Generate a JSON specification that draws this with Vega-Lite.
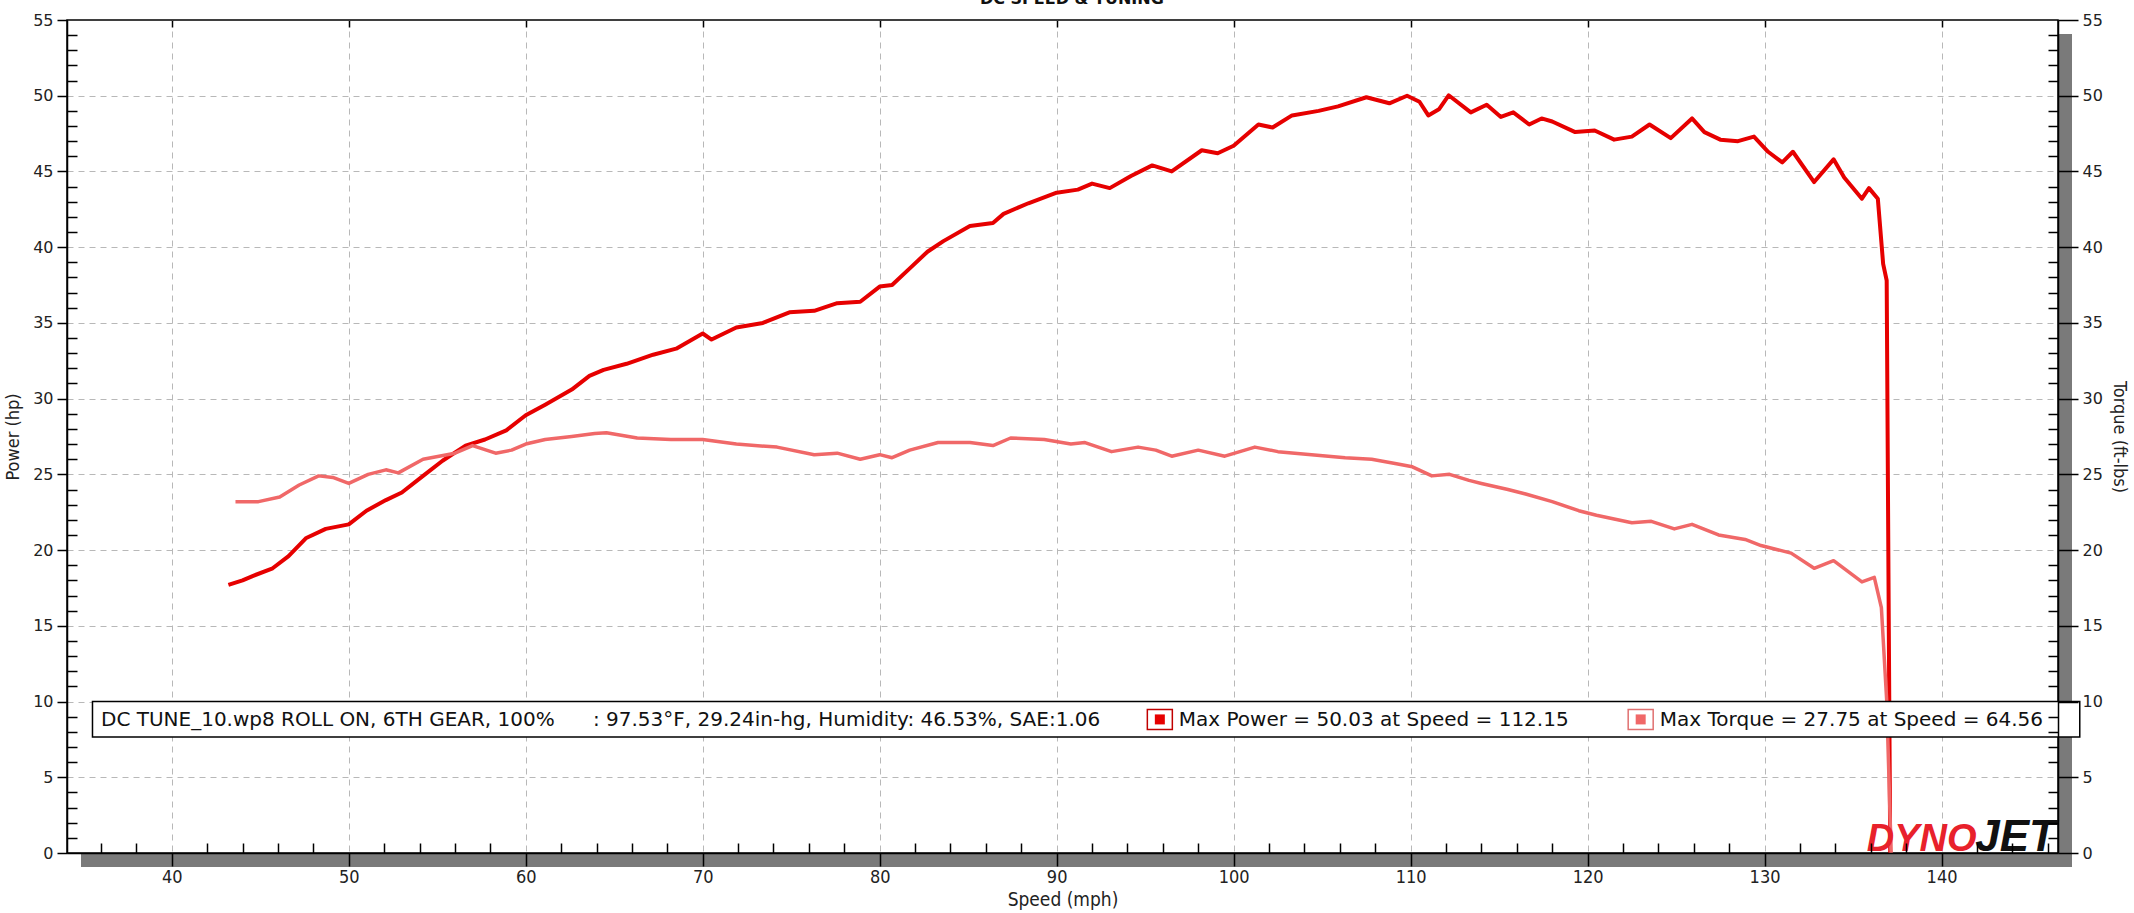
{
  "$schema": "https://vega.github.io/schema/vega-lite/v6.json",
  "width": 1991,
  "height": 833,
  "autosize": {"type": "none"},
  "padding": {"left": 67, "top": 20, "right": 76, "bottom": 60},
  "background": "white",
  "config": {
    "view": {"stroke": "#000", "strokeWidth": 1.5},
    "axis": {"labelFont": "DejaVu Sans", "titleFont": "DejaVu Sans", "labelColor": "#222", "titleColor": "#222", "titleFontWeight": "normal", "tickColor": "#000", "domainColor": "#000"}
  },
  "datasets": {
    "power": [
      {"speed": 43.2, "hp": 17.7}, {"speed": 44.0, "hp": 18.0}, {"speed": 44.6, "hp": 18.3}, {"speed": 45.7, "hp": 18.8},
      {"speed": 46.6, "hp": 19.6}, {"speed": 47.6, "hp": 20.8}, {"speed": 48.7, "hp": 21.4}, {"speed": 50.0, "hp": 21.7},
      {"speed": 51.0, "hp": 22.6}, {"speed": 52.1, "hp": 23.3}, {"speed": 53.0, "hp": 23.8}, {"speed": 54.2, "hp": 24.9},
      {"speed": 55.3, "hp": 25.9}, {"speed": 56.6, "hp": 26.9}, {"speed": 57.7, "hp": 27.3}, {"speed": 58.9, "hp": 27.9},
      {"speed": 60.0, "hp": 28.9}, {"speed": 61.1, "hp": 29.6}, {"speed": 62.6, "hp": 30.6}, {"speed": 63.6, "hp": 31.5},
      {"speed": 64.4, "hp": 31.9}, {"speed": 65.7, "hp": 32.3}, {"speed": 67.2, "hp": 32.9}, {"speed": 68.5, "hp": 33.3},
      {"speed": 70.0, "hp": 34.3}, {"speed": 70.5, "hp": 33.9}, {"speed": 71.9, "hp": 34.7}, {"speed": 73.4, "hp": 35.0},
      {"speed": 74.9, "hp": 35.7}, {"speed": 76.3, "hp": 35.8}, {"speed": 77.6, "hp": 36.3}, {"speed": 78.9, "hp": 36.4},
      {"speed": 80.0, "hp": 37.4}, {"speed": 80.7, "hp": 37.5}, {"speed": 81.7, "hp": 38.6}, {"speed": 82.7, "hp": 39.7},
      {"speed": 83.6, "hp": 40.4}, {"speed": 85.1, "hp": 41.4}, {"speed": 86.4, "hp": 41.6}, {"speed": 87.0, "hp": 42.2},
      {"speed": 88.4, "hp": 42.9}, {"speed": 90.0, "hp": 43.6}, {"speed": 91.2, "hp": 43.8}, {"speed": 92.0, "hp": 44.2},
      {"speed": 93.0, "hp": 43.9}, {"speed": 94.2, "hp": 44.7}, {"speed": 95.4, "hp": 45.4}, {"speed": 96.5, "hp": 45.0},
      {"speed": 98.2, "hp": 46.4}, {"speed": 99.1, "hp": 46.2}, {"speed": 100.0, "hp": 46.7}, {"speed": 101.4, "hp": 48.1},
      {"speed": 102.2, "hp": 47.9}, {"speed": 103.3, "hp": 48.7}, {"speed": 104.8, "hp": 49.0}, {"speed": 105.9, "hp": 49.3},
      {"speed": 107.5, "hp": 49.9}, {"speed": 108.8, "hp": 49.5}, {"speed": 109.8, "hp": 50.0}, {"speed": 110.5, "hp": 49.6},
      {"speed": 111.0, "hp": 48.7}, {"speed": 111.6, "hp": 49.1}, {"speed": 112.15, "hp": 50.03}, {"speed": 113.4, "hp": 48.9},
      {"speed": 114.3, "hp": 49.4}, {"speed": 115.1, "hp": 48.6}, {"speed": 115.8, "hp": 48.9}, {"speed": 116.7, "hp": 48.1},
      {"speed": 117.4, "hp": 48.5}, {"speed": 118.0, "hp": 48.3}, {"speed": 119.3, "hp": 47.6}, {"speed": 120.4, "hp": 47.7},
      {"speed": 121.5, "hp": 47.1}, {"speed": 122.5, "hp": 47.3}, {"speed": 123.5, "hp": 48.1}, {"speed": 124.7, "hp": 47.2},
      {"speed": 125.9, "hp": 48.5}, {"speed": 126.6, "hp": 47.6}, {"speed": 127.5, "hp": 47.1}, {"speed": 128.5, "hp": 47.0},
      {"speed": 129.4, "hp": 47.3}, {"speed": 130.2, "hp": 46.3}, {"speed": 131.0, "hp": 45.6}, {"speed": 131.6, "hp": 46.3},
      {"speed": 132.8, "hp": 44.3}, {"speed": 133.9, "hp": 45.8}, {"speed": 134.5, "hp": 44.6}, {"speed": 135.5, "hp": 43.2},
      {"speed": 135.9, "hp": 43.9}, {"speed": 136.4, "hp": 43.2}, {"speed": 136.7, "hp": 38.9}, {"speed": 136.9, "hp": 37.8},
      {"speed": 137.0, "hp": 18.5}, {"speed": 137.1, "hp": 0}
    ],
    "torque": [
      {"speed": 43.6, "tq": 23.2}, {"speed": 44.9, "tq": 23.2}, {"speed": 46.1, "tq": 23.5}, {"speed": 47.2, "tq": 24.3},
      {"speed": 48.3, "tq": 24.9}, {"speed": 49.1, "tq": 24.8}, {"speed": 50.0, "tq": 24.4}, {"speed": 51.1, "tq": 25.0},
      {"speed": 52.1, "tq": 25.3}, {"speed": 52.8, "tq": 25.1}, {"speed": 54.2, "tq": 26.0}, {"speed": 55.1, "tq": 26.2},
      {"speed": 56.0, "tq": 26.4}, {"speed": 57.0, "tq": 26.9}, {"speed": 58.3, "tq": 26.4}, {"speed": 59.2, "tq": 26.6},
      {"speed": 60.0, "tq": 27.0}, {"speed": 61.1, "tq": 27.3}, {"speed": 62.6, "tq": 27.5}, {"speed": 63.9, "tq": 27.7},
      {"speed": 64.56, "tq": 27.75}, {"speed": 66.3, "tq": 27.4}, {"speed": 68.2, "tq": 27.3}, {"speed": 70.0, "tq": 27.3},
      {"speed": 71.9, "tq": 27.0}, {"speed": 74.2, "tq": 26.8}, {"speed": 76.3, "tq": 26.3}, {"speed": 77.6, "tq": 26.4},
      {"speed": 78.9, "tq": 26.0}, {"speed": 80.0, "tq": 26.3}, {"speed": 80.7, "tq": 26.1}, {"speed": 81.7, "tq": 26.6},
      {"speed": 83.3, "tq": 27.1}, {"speed": 85.1, "tq": 27.1}, {"speed": 86.4, "tq": 26.9}, {"speed": 87.4, "tq": 27.4},
      {"speed": 89.3, "tq": 27.3}, {"speed": 90.8, "tq": 27.0}, {"speed": 91.6, "tq": 27.1}, {"speed": 93.1, "tq": 26.5},
      {"speed": 94.6, "tq": 26.8}, {"speed": 95.6, "tq": 26.6}, {"speed": 96.5, "tq": 26.2}, {"speed": 98.0, "tq": 26.6},
      {"speed": 99.5, "tq": 26.2}, {"speed": 101.2, "tq": 26.8}, {"speed": 102.5, "tq": 26.5}, {"speed": 104.4, "tq": 26.3},
      {"speed": 106.3, "tq": 26.1}, {"speed": 107.8, "tq": 26.0}, {"speed": 109.2, "tq": 25.7}, {"speed": 110.1, "tq": 25.5},
      {"speed": 111.2, "tq": 24.9}, {"speed": 112.2, "tq": 25.0}, {"speed": 113.3, "tq": 24.6}, {"speed": 114.0, "tq": 24.4},
      {"speed": 115.5, "tq": 24.0}, {"speed": 116.5, "tq": 23.7}, {"speed": 118.0, "tq": 23.2}, {"speed": 119.5, "tq": 22.6},
      {"speed": 120.5, "tq": 22.3}, {"speed": 122.5, "tq": 21.8}, {"speed": 123.6, "tq": 21.9}, {"speed": 124.9, "tq": 21.4},
      {"speed": 125.9, "tq": 21.7}, {"speed": 127.4, "tq": 21.0}, {"speed": 128.9, "tq": 20.7}, {"speed": 129.8, "tq": 20.3},
      {"speed": 131.5, "tq": 19.8}, {"speed": 132.8, "tq": 18.8}, {"speed": 133.9, "tq": 19.3}, {"speed": 135.5, "tq": 17.9},
      {"speed": 136.2, "tq": 18.2}, {"speed": 136.6, "tq": 16.2}, {"speed": 136.9, "tq": 10.1}, {"speed": 137.15, "tq": 0}
    ]
  },
  "resolve": {"axis": {"x": "independent", "y": "independent"}},
  "layer": [
    {
      "data": {"name": "power"},
      "mark": {"type": "point", "opacity": 0},
      "encoding": {
        "x": {"field": "speed", "type": "quantitative", "scale": {"domain": [34.08, 146.58], "nice": false, "zero": false},
              "axis": {"orient": "bottom", "values": [40, 50, 60, 70, 80, 90, 100, 110, 120, 130, 140], "grid": true, "gridColor": "#b8b8b8", "gridDash": [6, 5], "gridWidth": 1, "domain": false, "ticks": false, "labels": false, "title": null, "zindex": 0}},
        "y": {"field": "hp", "type": "quantitative", "scale": {"domain": [0, 55], "nice": false, "zero": true},
              "axis": {"orient": "left", "values": [5, 10, 15, 20, 25, 30, 35, 40, 45, 50], "grid": true, "gridColor": "#b8b8b8", "gridDash": [6, 5], "gridWidth": 1, "domain": false, "ticks": false, "labels": false, "title": null, "zindex": 0}}
      }
    },
    {
      "data": {"name": "power"},
      "mark": {"type": "point", "opacity": 0},
      "encoding": {
        "x": {"field": "speed", "type": "quantitative",
              "axis": {"orient": "bottom", "domain": true, "domainColor": "#7a7a7a", "domainWidth": 14, "offset": -7, "translate": 14, "ticks": false, "labels": false, "grid": false, "title": null, "zindex": 0}},
        "y": {"field": "hp", "type": "quantitative",
              "axis": {"orient": "right", "domain": true, "domainColor": "#7a7a7a", "domainWidth": 14, "offset": -7, "translate": 14, "ticks": false, "labels": false, "grid": false, "title": null, "zindex": 0}}
      }
    },
    {
      "data": {"name": "power"},
      "mark": {"type": "line", "color": "#e60000", "strokeWidth": 4, "strokeJoin": "round"},
      "encoding": {
        "x": {"field": "speed", "type": "quantitative",
              "axis": {"orient": "bottom", "values": [40, 50, 60, 70, 80, 90, 100, 110, 120, 130, 140], "grid": false, "tickSize": 13, "tickWidth": 1.5, "domainWidth": 1.5, "labelFont": "DejaVu Sans Condensed", "labelFontSize": 18, "labelPadding": 2, "title": "Speed (mph)", "titleFont": "DejaVu Sans Condensed", "titleFontSize": 19, "titlePadding": 4, "zindex": 1}},
        "y": {"field": "hp", "type": "quantitative",
              "axis": {"orient": "left", "values": [0, 5, 10, 15, 20, 25, 30, 35, 40, 45, 50, 55], "grid": false, "tickSize": 10, "tickWidth": 1.5, "domainWidth": 1.5, "labelFontSize": 16, "labelPadding": 4, "title": "Power (hp)", "titleFont": "DejaVu Sans Condensed", "titleFontSize": 18, "titlePadding": 10, "zindex": 1}}
      }
    },
    {
      "data": {"name": "torque"},
      "mark": {"type": "line", "color": "#f06868", "strokeWidth": 3.5, "strokeJoin": "round"},
      "encoding": {
        "x": {"field": "speed", "type": "quantitative",
              "axis": {"orient": "top", "values": [40, 50, 60, 70, 80, 90, 100, 110, 120, 130, 140], "grid": false, "domain": false, "tickSize": 7, "tickWidth": 1.5, "offset": -7, "labels": false, "title": null, "zindex": 1}},
        "y": {"field": "tq", "type": "quantitative",
              "axis": {"orient": "right", "values": [0, 5, 10, 15, 20, 25, 30, 35, 40, 45, 50, 55], "grid": false, "tickSize": 20, "tickWidth": 1.5, "domainWidth": 1.5, "labelFontSize": 16, "labelPadding": 4, "title": "Torque (ft-lbs)", "titleFont": "DejaVu Sans Condensed", "titleFontSize": 18, "titlePadding": 7, "zindex": 1}}
      }
    },
    {
      "data": {"name": "power"},
      "mark": {"type": "point", "opacity": 0},
      "encoding": {
        "x": {"field": "speed", "type": "quantitative",
              "axis": {"orient": "bottom", "values": [36, 38, 42, 44, 46, 48, 52, 54, 56, 58, 62, 64, 66, 68, 72, 74, 76, 78, 82, 84, 86, 88, 92, 94, 96, 98, 102, 104, 106, 108, 112, 114, 116, 118, 122, 124, 126, 128, 132, 134, 136, 138, 142, 144, 146], "domain": false, "tickSize": 10, "tickWidth": 1.5, "offset": -10, "labels": false, "grid": false, "title": null, "zindex": 1}},
        "y": {"field": "hp", "type": "quantitative",
              "axis": {"orient": "left", "values": [1, 2, 3, 4, 6, 7, 8, 9, 11, 12, 13, 14, 16, 17, 18, 19, 21, 22, 23, 24, 26, 27, 28, 29, 31, 32, 33, 34, 36, 37, 38, 39, 41, 42, 43, 44, 46, 47, 48, 49, 51, 52, 53, 54], "domain": false, "tickSize": 10, "tickWidth": 1.5, "offset": -10, "labels": false, "grid": false, "title": null, "zindex": 1}}
      }
    },
    {
      "data": {"name": "torque"},
      "mark": {"type": "point", "opacity": 0},
      "encoding": {
        "x": {"field": "speed", "type": "quantitative", "axis": null},
        "y": {"field": "tq", "type": "quantitative",
              "axis": {"orient": "right", "values": [1, 2, 3, 4, 6, 7, 8, 9, 11, 12, 13, 14, 16, 17, 18, 19, 21, 22, 23, 24, 26, 27, 28, 29, 31, 32, 33, 34, 36, 37, 38, 39, 41, 42, 43, 44, 46, 47, 48, 49, 51, 52, 53, 54], "domain": false, "tickSize": 10, "tickWidth": 1.5, "offset": -10, "labels": false, "grid": false, "title": null, "zindex": 1}}
      }
    },
    {
      "data": {"values": [{}]},
      "mark": {"type": "rect", "fill": "white", "stroke": "#000", "strokeWidth": 1.5},
      "encoding": {
        "x": {"datum": 35.52, "type": "quantitative", "axis": null},
        "x2": {"datum": 147.81},
        "y": {"datum": 10.0, "type": "quantitative", "axis": null},
        "y2": {"datum": 7.66}
      }
    },
    {
      "data": {"values": [{}]},
      "mark": {"type": "text", "align": "left", "baseline": "middle", "font": "DejaVu Sans", "fontSize": 20, "color": "#111"},
      "encoding": {
        "x": {"datum": 36.0, "type": "quantitative", "axis": null},
        "y": {"datum": 8.8, "type": "quantitative", "axis": null},
        "text": {"value": "DC TUNE_10.wp8 ROLL ON, 6TH GEAR, 100%\u00a0\u00a0\u00a0\u00a0\u00a0\u00a0: 97.53°F, 29.24in-hg, Humidity: 46.53%, SAE:1.06"}
      }
    },
    {
      "data": {"values": [{}]},
      "mark": {"type": "point", "shape": "M-1.25,-1H1.25V1H-1.25Z", "size": 400, "filled": false, "stroke": "#c00000", "strokeWidth": 1.5, "opacity": 1},
      "encoding": {
        "x": {"datum": 95.83, "type": "quantitative", "axis": null},
        "y": {"datum": 8.82, "type": "quantitative", "axis": null}
      }
    },
    {
      "data": {"values": [{}]},
      "mark": {"type": "point", "shape": "square", "size": 100, "filled": true, "color": "#e60000", "opacity": 1},
      "encoding": {
        "x": {"datum": 95.83, "type": "quantitative", "axis": null},
        "y": {"datum": 8.82, "type": "quantitative", "axis": null}
      }
    },
    {
      "data": {"values": [{}]},
      "mark": {"type": "text", "align": "left", "baseline": "middle", "font": "DejaVu Sans", "fontSize": 20, "color": "#111"},
      "encoding": {
        "x": {"datum": 96.9, "type": "quantitative", "axis": null},
        "y": {"datum": 8.8, "type": "quantitative", "axis": null},
        "text": {"value": "Max Power = 50.03 at Speed = 112.15"}
      }
    },
    {
      "data": {"values": [{}]},
      "mark": {"type": "point", "shape": "M-1.25,-1H1.25V1H-1.25Z", "size": 400, "filled": false, "stroke": "#e07070", "strokeWidth": 1.5, "opacity": 1},
      "encoding": {
        "x": {"datum": 123.0, "type": "quantitative", "axis": null},
        "y": {"datum": 8.82, "type": "quantitative", "axis": null}
      }
    },
    {
      "data": {"values": [{}]},
      "mark": {"type": "point", "shape": "square", "size": 100, "filled": true, "color": "#f06868", "opacity": 1},
      "encoding": {
        "x": {"datum": 123.0, "type": "quantitative", "axis": null},
        "y": {"datum": 8.82, "type": "quantitative", "axis": null}
      }
    },
    {
      "data": {"values": [{}]},
      "mark": {"type": "text", "align": "left", "baseline": "middle", "font": "DejaVu Sans", "fontSize": 20, "color": "#111"},
      "encoding": {
        "x": {"datum": 124.08, "type": "quantitative", "axis": null},
        "y": {"datum": 8.8, "type": "quantitative", "axis": null},
        "text": {"value": "Max Torque = 27.75 at Speed = 64.56"}
      }
    },
    {
      "data": {"values": [{}]},
      "mark": {"type": "text", "align": "left", "baseline": "alphabetic", "font": "Liberation Sans", "fontSize": 38, "fontWeight": "bold", "fontStyle": "italic", "color": "#e8212b"},
      "encoding": {
        "x": {"datum": 135.77, "type": "quantitative", "axis": null},
        "y": {"datum": 0.12, "type": "quantitative", "axis": null},
        "text": {"value": "DYNO"}
      }
    },
    {
      "data": {"values": [{}]},
      "mark": {"type": "text", "align": "left", "baseline": "alphabetic", "font": "Liberation Sans", "fontSize": 44, "fontWeight": "bold", "fontStyle": "italic", "color": "#111"},
      "encoding": {
        "x": {"datum": 141.9, "type": "quantitative", "axis": null},
        "y": {"datum": 0.12, "type": "quantitative", "axis": null},
        "text": {"value": "JET"}
      }
    },
    {
      "data": {"values": [{}]},
      "mark": {"type": "text", "align": "center", "baseline": "alphabetic", "font": "DejaVu Sans", "fontSize": 16, "fontWeight": "bold", "color": "#111"},
      "encoding": {
        "x": {"datum": 90.86, "type": "quantitative", "axis": null},
        "y": {"datum": 56.06, "type": "quantitative", "axis": null},
        "text": {"value": "DC SPEED & TUNING"}
      }
    }
  ]
}
